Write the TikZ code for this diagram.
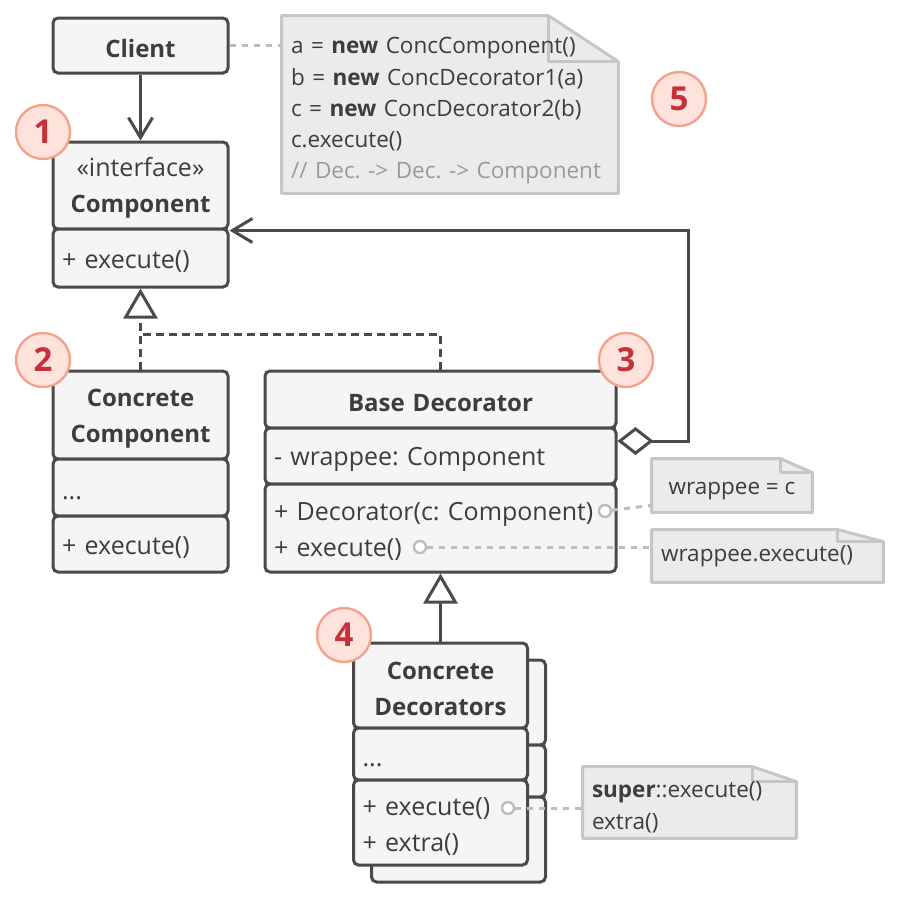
\documentclass[tikz,border=0pt]{standalone}
\usepackage{fontspec}
\setmainfont{Open Sans}
\usetikzlibrary{arrows.meta,backgrounds}

\definecolor{linec}{HTML}{4A4A4A}
\definecolor{boxfill}{HTML}{F5F5F5}
\definecolor{textc}{HTML}{3D3D3D}
\definecolor{notef}{HTML}{EBEBEB}
\definecolor{notec}{HTML}{C6C6C6}
\definecolor{commentc}{HTML}{9A9A9A}
\definecolor{dotc}{HTML}{BDBDBD}
\definecolor{numfill}{HTML}{FDE3DC}
\definecolor{numline}{HTML}{F4A28E}
\definecolor{numtext}{HTML}{C62F3B}

\tikzset{
  box/.style={draw=linec, fill=boxfill, line width=1.5pt, rounded corners=2.5pt, text=textc, inner sep=0pt, inner xsep=4.5pt},
  title/.style={box, align=center, text width=#1, font=\fontsize{12}{18}\selectfont\bfseries, execute at begin node={\rule{0pt}{12pt}}},
  members/.style={box, align=left, text width=#1, font=\fontsize{12.5}{18}\selectfont, execute at begin node={\rule{0pt}{12.5pt}}},
  num/.style={circle, draw=numline, fill=numfill, line width=1.2pt, minimum size=27pt, inner sep=0pt, text=numtext, font=\fontsize{16.5}{16.5}\selectfont\bfseries},
  notetext/.style={text=textc, inner xsep=4.5pt, inner ysep=0pt, align=left, font=\fontsize{11.25}{15.6}\selectfont},
  notebox/.style={draw=notec, fill=notef, line width=1.5pt, line join=round},
  hole/.style={circle, draw=dotc, fill=white, line width=1.2pt, minimum size=6pt, inner sep=0pt},
  assoc/.style={draw=linec, line width=1.5pt, -{Straight Barb[length=10pt, width=12pt]}},
  agg/.style={draw=linec, line width=1.5pt, {Diamond[fill=white, length=18pt, width=14pt]}-{Straight Barb[length=10pt, width=12pt]}},
  real/.style={draw=linec, line width=1.5pt, dash pattern=on 4pt off 2.5pt, -{Triangle[fill=white, length=15pt, width=17pt]}},
  dashline/.style={draw=linec, line width=1.5pt, dash pattern=on 4pt off 2.5pt},
  inherit/.style={draw=linec, line width=1.5pt, -{Triangle[fill=white, length=15pt, width=17pt]}},
  noteline/.style={draw=dotc, line width=1.5pt, dash pattern=on 3pt off 3pt}
}

\begin{document}
\frenchspacing
\begin{tikzpicture}[x=0.5pt, y=-0.5pt]
\useasboundingbox (0,0) rectangle (900,900);

% client and interface
\node[title=78.5pt, minimum height=27.5pt] (client) at (140.5,45.5) {Client};
\node[title=78.5pt, minimum height=43.5pt] (comphead) at (140.5,185.5) {{\mdseries\fontsize{12.5}{18}\selectfont «interface»}\\Component};
\node[members=78.5pt, minimum height=29pt] (compops) at (140.5,258) {+ execute()};

% concrete component
\node[title=78.5pt, minimum height=44pt] (cchead) at (140.5,415) {Concrete\\Component};
\node[members=78.5pt, minimum height=28.5pt] (ccfields) at (140.5,487.5) {...};
\node[members=78.5pt, minimum height=28pt] (ccops) at (140.5,544) {+ execute()};

% base decorator
\node[title=166.5pt, minimum height=28.5pt] (bdhead) at (440.5,399.5) {Base Decorator};
\node[members=166.5pt, minimum height=28pt] (bdfields) at (440.5,456) {- wrappee: Component};
\node[members=166.5pt, minimum height=44pt] (bdops) at (440.5,528) {+ Decorator(c: Component)\\+ execute()};

% concrete decorators (stacked)
\node[box, minimum width=87pt, minimum height=42.5pt] (cdback1) at (458.5,702.5) {};
\node[box, minimum width=87pt, minimum height=26pt] (cdback2) at (458.5,771) {};
\node[box, minimum width=87pt, minimum height=42.5pt] (cdback3) at (458.5,839.5) {};
\node[title=78pt, minimum height=42.5pt] (cdhead) at (440.5,685.5) {Concrete\\Decorators};
\node[members=78pt, minimum height=26pt] (cdfields) at (440.5,754) {...};
\node[members=78pt, minimum height=42.5pt] (cdops) at (440.5,822.5) {+ execute()\\+ extra()};

% notes
\node[notetext, text width=159pt, minimum height=88.5pt] (note1) at (450,104.5) {\rule{0pt}{14.6pt}a = \textbf{new} ConcComponent()\\b = \textbf{new} ConcDecorator1(a)\\c = \textbf{new} ConcDecorator2(b)\\c.execute()\\{\color{commentc}// Dec. -> Dec. -> Component}};
\node[notetext, align=center, minimum width=80pt, minimum height=26.5pt] (note2) at (732,485.5) {\rule{0pt}{11.6pt}wrappee = c};
\node[notetext, text width=106.5pt, minimum height=26pt] (note3) at (767.5,556) {wrappee.execute()};
\node[notetext, text width=97.5pt, minimum height=35.5pt, font=\fontsize{11.25}{16}\selectfont] (note4) at (689.5,802.5) {\rule{0pt}{13pt}\textbf{super}::execute()\\extra()};
\begin{scope}[on background layer]
\foreach \n/\fw/\fh in {note1/35pt/23pt, note2/16pt/7pt, note3/23pt/6pt, note4/22pt/7.5pt}{
  \draw[notebox] (\n.north west) -- ([xshift=-\fw]\n.north east) -- ([yshift=-\fh]\n.north east) -- (\n.south east) -- (\n.south west) -- cycle;
  \draw[notebox, fill=none] ([xshift=-\fw]\n.north east) |- ([yshift=-\fh]\n.north east);
}
\end{scope}

% relations
\coordinate (join) at (140.5,334);
\draw[assoc] (client) -- (comphead);
\draw[real] (cchead.north) -- (compops.south);
\draw[dashline] (bdhead.north) |- (join);
\draw[inherit] (cdhead.north) -- (bdops.south);
\draw[agg] ([yshift=7.5pt]bdfields.east) -- ++(71,0) |- (comphead.south east);

% note links
\node[hole] (hole1) at (605,511) {};
\node[hole] (hole2) at (420,547) {};
\node[hole] (hole3) at (508,808) {};
\draw[noteline] (client.east) -- (client.east -| note1.west);
\draw[noteline] (hole1) -- ([yshift=3.5pt]note2.south west);
\draw[noteline] (hole2) -- (hole2 -| note3.west);
\draw[noteline] (hole3) -- (hole3 -| note4.west);

% step numbers
\node[num] (n1) at (43,132) {1};
\node[num] (n2) at (43,360) {2};
\node[num] (n3) at (626,360) {3};
\node[num] (n4) at (344,635) {4};
\node[num] (n5) at (679,99) {5};
\end{tikzpicture}
\end{document}
